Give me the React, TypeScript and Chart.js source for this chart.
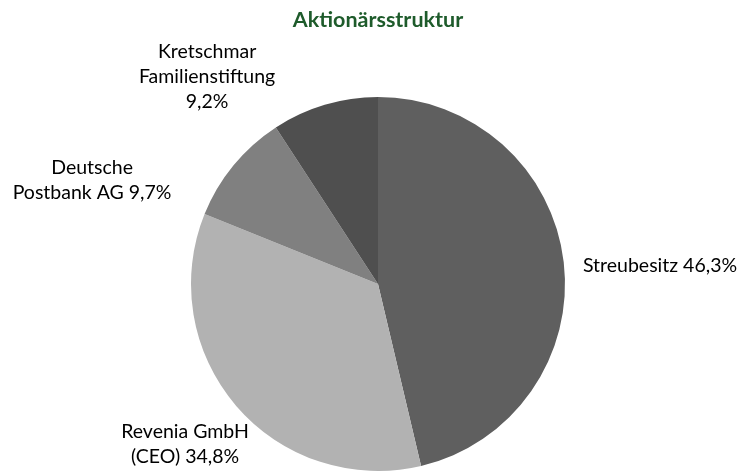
import React, { useEffect, useRef } from "react";
import { Chart, registerables } from "chart.js";

Chart.register(...registerables);

const title = "Aktionärsstruktur";
const categories = [
  "Streubesitz",
  "Revenia GmbH (CEO)",
  "Deutsche Postbank AG",
  "Kretschmar Familienstiftung",
];
const values = [46.3, 34.8, 9.7, 9.2];
const labelLines = [
  ["Streubesitz 46,3%"],
  ["Revenia GmbH", "(CEO) 34,8%"],
  ["Deutsche", "Postbank AG 9,7%"],
  ["Kretschmar", "Familienstiftung", "9,2%"],
];
const colors = ["#5f5f5f", "#b2b2b2", "#808080", "#4f4f4f"];

// label anchors relative to pie centre, in units of radius
const labelAnchors = [
  { dx: 1.096, dy: -0.1, align: "left" },
  { dx: -1.032, dy: 0.856, align: "center" },
  { dx: -1.529, dy: -0.556, align: "center" },
  { dx: -0.914, dy: -1.107, align: "center" },
];

const FONT = "Lato, 'Open Sans', sans-serif";

const labelPlugin = {
  id: "pieLabels",
  afterDraw(chart: any) {
    const ctx = chart.ctx;
    const meta = chart.getDatasetMeta(0);
    const arc0 = meta.data[0];
    if (!arc0) return;
    const cx = arc0.x;
    const cy = arc0.y;
    const r = arc0.outerRadius;
    ctx.save();
    ctx.fillStyle = "#000000";
    ctx.font = `19.5px ${FONT}`;
    ctx.textBaseline = "middle";
    const lh = 25;
    labelLines.forEach((lines, i) => {
      const a = labelAnchors[i];
      const x = cx + a.dx * r;
      const y = cy + a.dy * r;
      ctx.textAlign = a.align as CanvasTextAlign;
      const startY = y - ((lines.length - 1) * lh) / 2;
      lines.forEach((t, j) => ctx.fillText(t, x, startY + j * lh));
    });
    ctx.font = `bold 21.5px ${FONT}`;
    ctx.fillStyle = "#1e5b2b";
    ctx.textAlign = "center";
    ctx.fillText(title, cx, 20);
    ctx.restore();
  },
};

export default function App() {
  const ref = useRef<HTMLCanvasElement>(null);
  useEffect(() => {
    if (!ref.current) return;
    const chart = new Chart(ref.current, {
      type: "pie",
      data: {
        labels: categories,
        datasets: [
          {
            data: values,
            backgroundColor: colors,
            borderWidth: 0,
          },
        ],
      },
      options: {
        responsive: false,
        animation: false,
        layout: { padding: { left: 191, right: 185, top: 97, bottom: 2 } },
        plugins: {
          legend: { display: false },
          title: { display: false },
          tooltip: { enabled: false },
        },
      },
      plugins: [labelPlugin],
    });
    return () => chart.destroy();
  }, []);
  return (
    <div style={{ position: "absolute", left: 0, top: 0, width: 750, height: 473, background: "#fff" }}>
      <canvas ref={ref} width={750} height={473} />
    </div>
  );
}
